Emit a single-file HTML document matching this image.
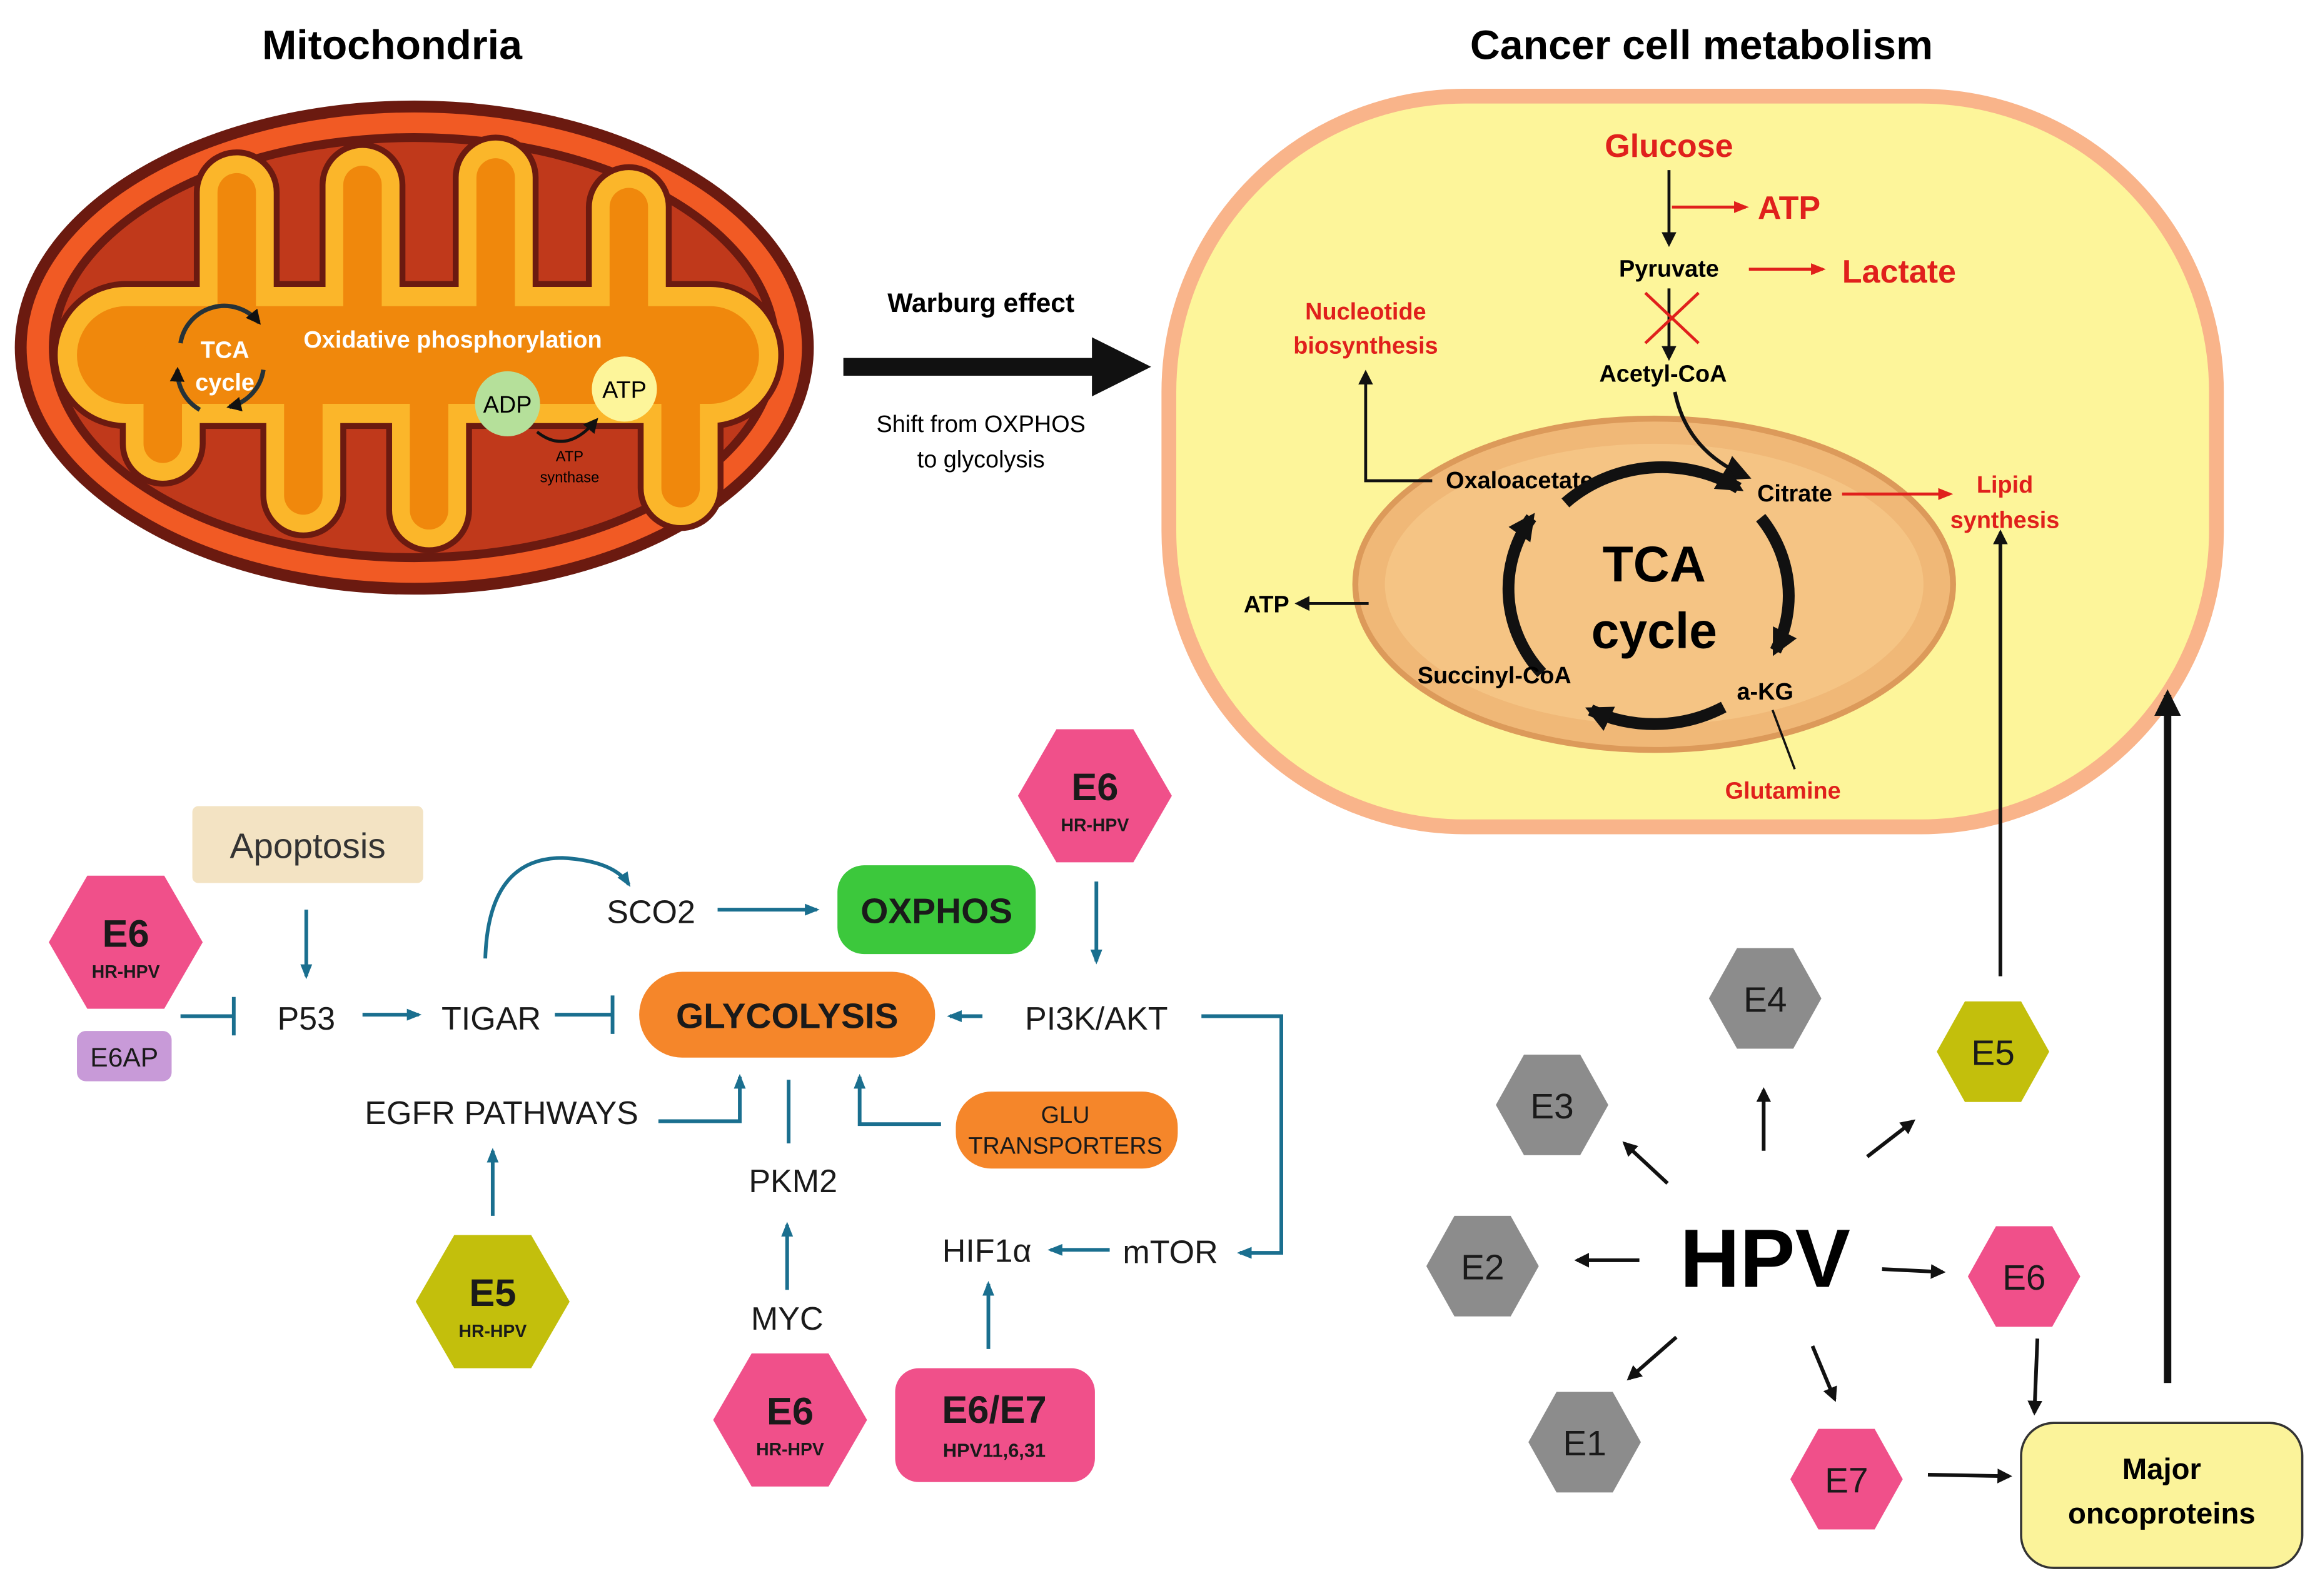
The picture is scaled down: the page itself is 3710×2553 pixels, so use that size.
<!DOCTYPE html>
<html><head><meta charset="utf-8"><style>html,body{margin:0;padding:0;background:#fff}svg{display:block}</style></head>
<body>
<svg width="3710" height="2553" viewBox="0 0 1568 1079" xmlns="http://www.w3.org/2000/svg" font-family="Liberation Sans, sans-serif">
<defs>
<marker id="ab" markerWidth="10" markerHeight="10" refX="8" refY="5" orient="auto" markerUnits="userSpaceOnUse"><path d="M0,0 L10,5 L0,10 z" fill="#111"/></marker>
<marker id="ar" markerWidth="10" markerHeight="10" refX="8" refY="5" orient="auto" markerUnits="userSpaceOnUse"><path d="M0,1 L10,5 L0,9 z" fill="#e0201c"/></marker>
<marker id="at" markerWidth="10" markerHeight="10" refX="8" refY="5" orient="auto" markerUnits="userSpaceOnUse"><path d="M0,1 L10,5 L0,9 z" fill="#1a6f8f"/></marker>
<marker id="aB" markerWidth="18" markerHeight="18" refX="14" refY="9" orient="auto" markerUnits="userSpaceOnUse"><path d="M0,0 L18,9 L0,18 z" fill="#111"/></marker>
</defs>
<text x="265" y="40" font-size="28" font-weight="bold" text-anchor="middle">Mitochondria</text>
<text x="1150" y="40" font-size="28" font-weight="bold" text-anchor="middle">Cancer cell metabolism</text>

<!-- mitochondrion -->
<ellipse cx="280" cy="235" rx="270" ry="167" fill="#6b1a10"/>
<ellipse cx="280" cy="235" rx="262" ry="159" fill="#f15a24"/>
<ellipse cx="280" cy="235" rx="247" ry="145" fill="#6b1a10"/>
<ellipse cx="280" cy="235" rx="241" ry="139" fill="#c0391b"/>
<g fill="none" stroke-linecap="round" stroke-linejoin="round">
<path d="M85,240 H480" stroke="#6b1a10" stroke-width="100"/>
<path d="M160,240 V130 M245,240 V125 M335,240 V120 M425,240 V140 M110,240 V300 M205,240 V335 M290,240 V345 M460,240 V330" stroke="#6b1a10" stroke-width="58"/>
<path d="M85,240 H480" stroke="#fbb62a" stroke-width="92"/>
<path d="M160,240 V130 M245,240 V125 M335,240 V120 M425,240 V140 M110,240 V300 M205,240 V335 M290,240 V345 M460,240 V330" stroke="#fbb62a" stroke-width="50"/>
<path d="M85,240 H480" stroke="#f0880c" stroke-width="66"/>
<path d="M160,240 V130 M245,240 V125 M335,240 V120 M425,240 V140 M110,240 V300 M205,240 V335 M290,240 V345 M460,240 V330" stroke="#f0880c" stroke-width="26"/>
</g>
<g stroke="#263238" stroke-width="3" fill="none">
<path d="M122,232 A30,30 0 0 1 175,218" marker-end="url(#ab)"/>
<path d="M178,250 A30,30 0 0 1 155,275" marker-end="url(#ab)"/>
<path d="M135,277 A30,30 0 0 1 120,250" marker-end="url(#ab)"/>
</g>
<text x="152" y="242" font-size="16" font-weight="bold" fill="#fff" text-anchor="middle">TCA</text>
<text x="152" y="264" font-size="16" font-weight="bold" fill="#fff" text-anchor="middle">cycle</text>
<text x="306" y="235" font-size="16" font-weight="bold" fill="#fff" text-anchor="middle">Oxidative phosphorylation</text>
<circle cx="343" cy="273" r="22" fill="#b5e09a"/>
<text x="343" y="279" font-size="16" text-anchor="middle">ADP</text>
<circle cx="422" cy="263" r="22" fill="#fdf59a"/>
<text x="422" y="269" font-size="16" text-anchor="middle">ATP</text>
<path d="M363,292 Q383,308 403,284" stroke="#111" stroke-width="2" fill="none" marker-end="url(#ab)"/>
<text x="385" y="312" font-size="10" text-anchor="middle">ATP</text>
<text x="385" y="326" font-size="10" text-anchor="middle">synthase</text>

<line x1="570" y1="248" x2="740" y2="248" stroke="#111" stroke-width="12"/>
<polygon points="738,228 778,248 738,268" fill="#111"/>
<text x="663" y="211" font-size="18" font-weight="bold" text-anchor="middle">Warburg effect</text>
<text x="663" y="292" font-size="16" text-anchor="middle">Shift from OXPHOS</text>
<text x="663" y="316" font-size="16" text-anchor="middle">to glycolysis</text>

<rect x="790" y="65" width="708" height="494" rx="200" fill="#fdf59a" stroke="#f9b48a" stroke-width="10"/>
<ellipse cx="1118" cy="395" rx="202" ry="112" fill="#f0b877" stroke="#dc9a5a" stroke-width="4"/>
<ellipse cx="1118" cy="395" rx="182" ry="95" fill="#f7c98a" opacity="0.7"/>
<text x="1128" y="106" font-size="22" font-weight="bold" fill="#e0201c" text-anchor="middle">Glucose</text>
<line x1="1128" y1="115" x2="1128" y2="165" stroke="#111" stroke-width="2" marker-end="url(#ab)"/>
<line x1="1130" y1="140" x2="1180" y2="140" stroke="#e0201c" stroke-width="2" marker-end="url(#ar)"/>
<text x="1188" y="148" font-size="22" font-weight="bold" fill="#e0201c">ATP</text>
<text x="1128" y="187" font-size="16" font-weight="bold" text-anchor="middle">Pyruvate</text>
<line x1="1182" y1="182" x2="1232" y2="182" stroke="#e0201c" stroke-width="2" marker-end="url(#ar)"/>
<text x="1245" y="191" font-size="22" font-weight="bold" fill="#e0201c">Lactate</text>
<line x1="1128" y1="195" x2="1128" y2="242" stroke="#111" stroke-width="2" marker-end="url(#ab)"/>
<path d="M1112,198 L1148,232 M1148,198 L1112,232" stroke="#e0201c" stroke-width="2"/>
<text x="1124" y="258" font-size="16" font-weight="bold" text-anchor="middle">Acetyl-CoA</text>
<text x="923" y="216" font-size="16" font-weight="bold" fill="#e0201c" text-anchor="middle">Nucleotide</text>
<text x="923" y="239" font-size="16" font-weight="bold" fill="#e0201c" text-anchor="middle">biosynthesis</text>
<path d="M968,325 H923 V252" stroke="#111" stroke-width="2" fill="none" marker-end="url(#ab)"/>
<path d="M1132,265 Q1140,305 1180,322" stroke="#111" stroke-width="2.5" fill="none" marker-end="url(#aB)"/>
<text x="1027" y="330" font-size="16" font-weight="bold" text-anchor="middle">Oxaloacetate</text>
<text x="1213" y="339" font-size="16" font-weight="bold" text-anchor="middle">Citrate</text>
<line x1="1245" y1="334" x2="1318" y2="334" stroke="#e0201c" stroke-width="2" marker-end="url(#ar)"/>
<text x="1355" y="333" font-size="16" font-weight="bold" fill="#e0201c" text-anchor="middle">Lipid</text>
<text x="1355" y="357" font-size="16" font-weight="bold" fill="#e0201c" text-anchor="middle">synthesis</text>
<g stroke="#111" stroke-width="8" fill="none">
<path d="M1058,340 A95,88 0 0 1 1175,330" marker-end="url(#aB)"/>
<path d="M1190,350 A95,88 0 0 1 1200,440" marker-end="url(#aB)"/>
<path d="M1165,478 A95,88 0 0 1 1075,480" marker-end="url(#aB)"/>
<path d="M1042,455 A95,88 0 0 1 1035,350" marker-end="url(#aB)"/>
</g>
<text x="1118" y="393" font-size="34" font-weight="bold" text-anchor="middle">TCA</text>
<text x="1118" y="438" font-size="34" font-weight="bold" text-anchor="middle">cycle</text>
<line x1="925" y1="408" x2="877" y2="408" stroke="#111" stroke-width="2" marker-end="url(#ab)"/>
<text x="856" y="414" font-size="16" font-weight="bold" text-anchor="middle">ATP</text>
<text x="1010" y="462" font-size="16" font-weight="bold" text-anchor="middle">Succinyl-CoA</text>
<text x="1193" y="473" font-size="16" font-weight="bold" text-anchor="middle">a-KG</text>
<line x1="1213" y1="520" x2="1198" y2="480" stroke="#111" stroke-width="1.5"/>
<text x="1205" y="540" font-size="16" font-weight="bold" fill="#e0201c" text-anchor="middle">Glutamine</text>

<g font-size="22" fill="#1a1a1a" text-anchor="middle">
<rect x="130" y="545" width="156" height="52" rx="4" fill="#f3e3c3"/>
<text x="208" y="580" font-size="24" fill="#333">Apoptosis</text>
<polygon points="33,637 59,592 111,592 137,637 111,682 59,682" fill="#f0508a"/>
<text x="85" y="640" font-size="26" font-weight="bold">E6</text>
<text x="85" y="661" font-size="12" font-weight="bold">HR-HPV</text>
<rect x="52" y="697" width="64" height="34" rx="6" fill="#c89ad8"/>
<text x="84" y="721" font-size="18">E6AP</text>
<text x="207" y="696">P53</text>
<text x="332" y="696">TIGAR</text>
<text x="440" y="624">SCO2</text>
<rect x="566" y="585" width="134" height="60" rx="18" fill="#3cc83c"/>
<text x="633" y="624" font-size="24" font-weight="bold">OXPHOS</text>
<rect x="432" y="657" width="200" height="58" rx="29" fill="#f5862a"/>
<text x="532" y="695" font-size="24" font-weight="bold">GLYCOLYSIS</text>
<text x="741" y="696">PI3K/AKT</text>
<polygon points="688,538 714,493 766,493 792,538 766,583 714,583" fill="#f0508a"/>
<text x="740" y="541" font-size="26" font-weight="bold">E6</text>
<text x="740" y="562" font-size="12" font-weight="bold">HR-HPV</text>
<text x="339" y="760">EGFR PATHWAYS</text>
<rect x="646" y="738" width="150" height="52" rx="24" fill="#f5862a"/>
<text x="720" y="759" font-size="16">GLU</text>
<text x="720" y="780" font-size="16">TRANSPORTERS</text>
<text x="536" y="806">PKM2</text>
<text x="667" y="853">HIF1α</text>
<text x="791" y="854">mTOR</text>
<text x="532" y="899">MYC</text>
<polygon points="281,880 307,835 359,835 385,880 359,925 307,925" fill="#c3bf0c"/>
<text x="333" y="883" font-size="26" font-weight="bold">E5</text>
<text x="333" y="904" font-size="12" font-weight="bold">HR-HPV</text>
<polygon points="482,960 508,915 560,915 586,960 560,1005 508,1005" fill="#f0508a"/>
<text x="534" y="963" font-size="26" font-weight="bold">E6</text>
<text x="534" y="984" font-size="12" font-weight="bold">HR-HPV</text>
<rect x="605" y="925" width="135" height="77" rx="16" fill="#f0508a"/>
<text x="672" y="962" font-size="26" font-weight="bold">E6/E7</text>
<text x="672" y="985" font-size="13" font-weight="bold">HPV11,6,31</text>
</g>
<g stroke="#1a6f8f" stroke-width="2.5" fill="none">
<line x1="207" y1="615" x2="207" y2="660" marker-end="url(#at)"/>
<path d="M122,687 H157 M158,674 V700"/>
<line x1="245" y1="686" x2="283" y2="686" marker-end="url(#at)"/>
<path d="M375,686 H413 M414,673 V699"/>
<path d="M328,648 Q330,580 380,580 Q415,582 425,598" marker-end="url(#at)"/>
<line x1="485" y1="615" x2="552" y2="615" marker-end="url(#at)"/>
<line x1="741" y1="596" x2="741" y2="650" marker-end="url(#at)"/>
<line x1="664" y1="687" x2="642" y2="687" marker-end="url(#at)"/>
<path d="M812,687 H866 V847 H838" marker-end="url(#at)"/>
<path d="M445,758 H500 V728" marker-end="url(#at)"/>
<path d="M636,760 H581 V728" marker-end="url(#at)"/>
<line x1="533" y1="730" x2="533" y2="773"/>
<line x1="333" y1="822" x2="333" y2="778" marker-end="url(#at)"/>
<line x1="532" y1="872" x2="532" y2="828" marker-end="url(#at)"/>
<line x1="668" y1="912" x2="668" y2="868" marker-end="url(#at)"/>
<line x1="750" y1="845" x2="710" y2="845" marker-end="url(#at)"/>
</g>

<text x="1193" y="870" font-size="56" font-weight="bold" text-anchor="middle">HPV</text>
<g font-size="24" text-anchor="middle" fill="#1a1a1a">
<polygon points="1155,675 1174,641 1212,641 1231,675 1212,709 1174,709" fill="#8c8c8c"/><text x="1193" y="684">E4</text>
<polygon points="1011,747 1030,713 1068,713 1087,747 1068,781 1030,781" fill="#8c8c8c"/><text x="1049" y="756">E3</text>
<polygon points="964,856 983,822 1021,822 1040,856 1021,890 983,890" fill="#8c8c8c"/><text x="1002" y="865">E2</text>
<polygon points="1033,975 1052,941 1090,941 1109,975 1090,1009 1052,1009" fill="#8c8c8c"/><text x="1071" y="984">E1</text>
<polygon points="1309,711 1328,677 1366,677 1385,711 1366,745 1328,745" fill="#c3bf0c"/><text x="1347" y="720">E5</text>
<polygon points="1330,863 1349,829 1387,829 1406,863 1387,897 1349,897" fill="#f0508a"/><text x="1368" y="872">E6</text>
<polygon points="1210,1000 1229,966 1267,966 1286,1000 1267,1034 1229,1034" fill="#f0508a"/><text x="1248" y="1009">E7</text>
</g>
<rect x="1366" y="962" width="190" height="98" rx="22" fill="#fbf39a" stroke="#333" stroke-width="1.5"/>
<text x="1461" y="1000" font-size="20" font-weight="bold" text-anchor="middle">Major</text>
<text x="1461" y="1030" font-size="20" font-weight="bold" text-anchor="middle">oncoproteins</text>
<g stroke="#111" stroke-width="2.5" fill="none">
<line x1="1192" y1="778" x2="1192" y2="737" marker-end="url(#ab)"/>
<line x1="1127" y1="800" x2="1098" y2="773" marker-end="url(#ab)"/>
<line x1="1108" y1="852" x2="1066" y2="852" marker-end="url(#ab)"/>
<line x1="1133" y1="904" x2="1101" y2="932" marker-end="url(#ab)"/>
<line x1="1262" y1="782" x2="1293" y2="758" marker-end="url(#ab)"/>
<line x1="1272" y1="858" x2="1313" y2="860" marker-end="url(#ab)"/>
<line x1="1225" y1="910" x2="1240" y2="946" marker-end="url(#ab)"/>
<line x1="1377" y1="905" x2="1375" y2="955" marker-end="url(#ab)"/>
<line x1="1303" y1="997" x2="1358" y2="998" marker-end="url(#ab)"/>
<line x1="1352" y1="660" x2="1352" y2="360" marker-end="url(#ab)"/>
</g>
<line x1="1465" y1="935" x2="1465" y2="470" stroke="#111" stroke-width="5" marker-end="url(#aB)"/>
</svg>
</body></html>
